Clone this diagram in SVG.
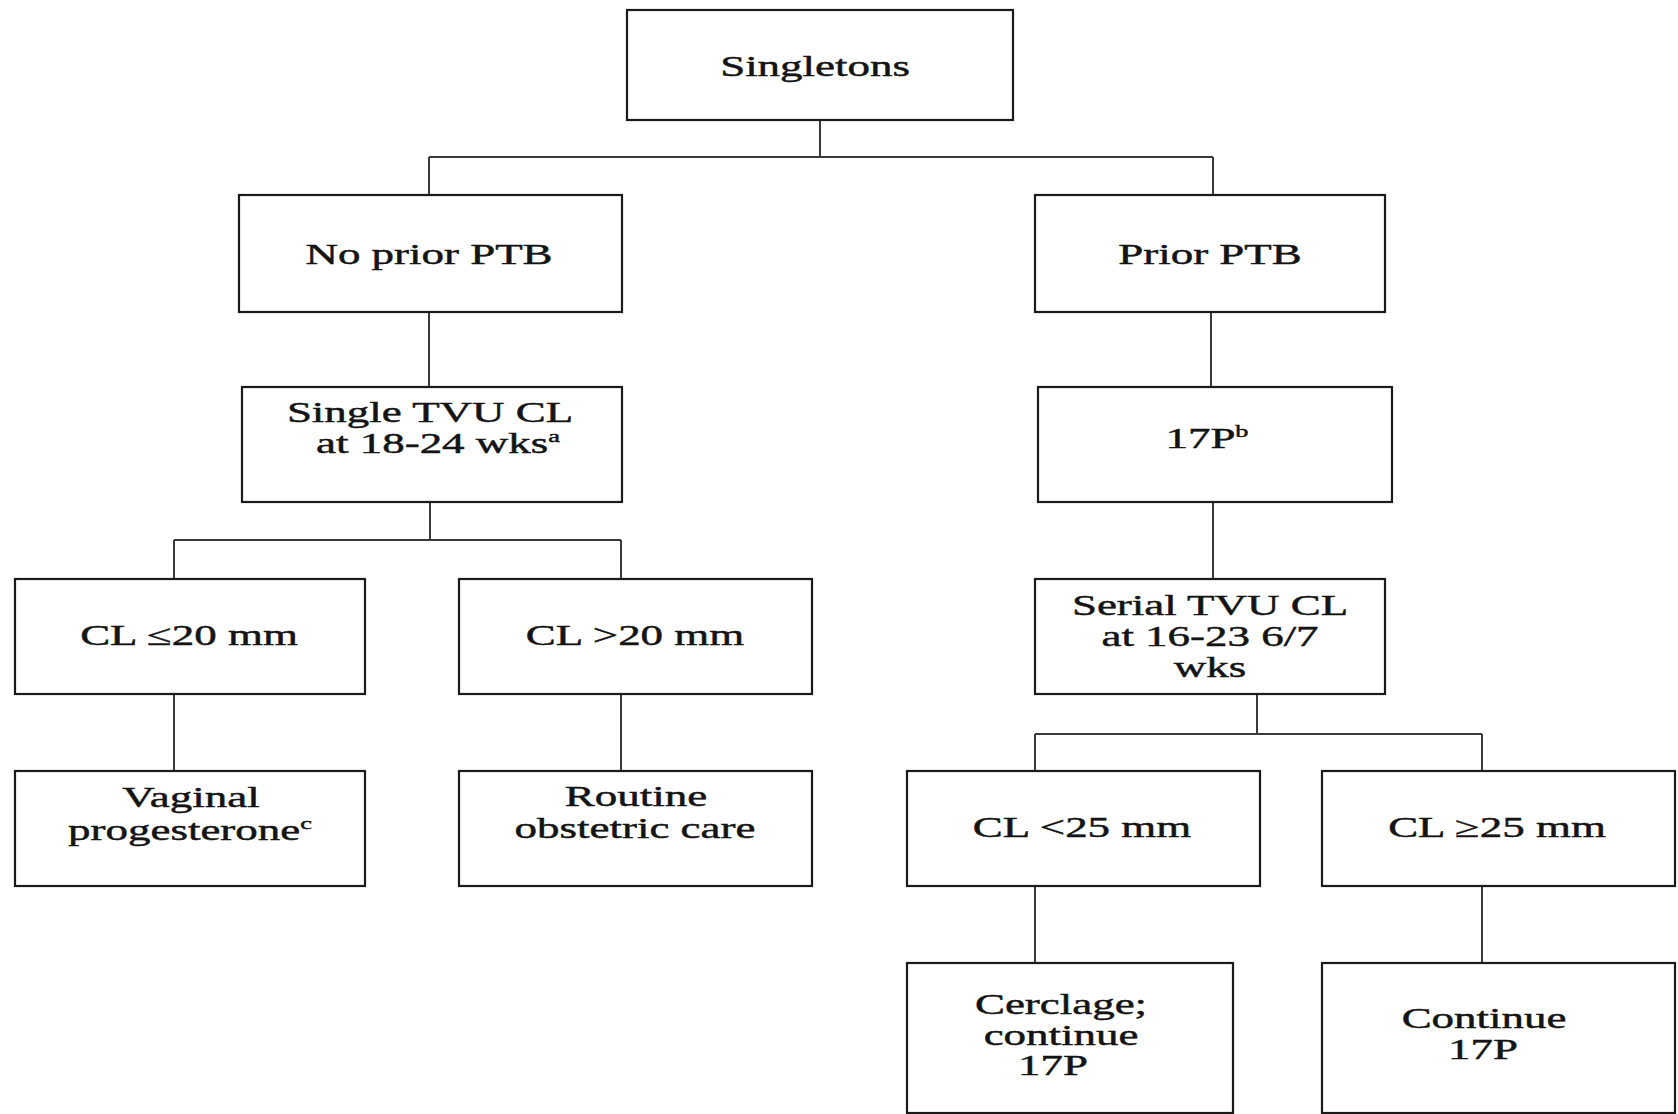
<svg xmlns="http://www.w3.org/2000/svg" width="1678" height="1114" viewBox="0 0 1678 1114">
<style>
.box{fill:#fff;stroke:#1a1a1a;stroke-width:2.2}
.c{fill:none;stroke:#3a3a3a;stroke-width:2}
.t{font-family:"Liberation Serif","Times New Roman",serif;font-size:29px;fill:#141414;stroke:#141414;stroke-width:0.45;text-anchor:middle}
.sup{font-size:17px}
</style>
<rect width="1678" height="1114" fill="#fff"/>
<g id="connectors">
<path class="c" d="M820 120V157M429 157H1213M429 157V195M1213 157V195"/>
<path class="c" d="M429 312V387M1211 312V387"/>
<path class="c" d="M430 502V540M174 540H621M174 540V579M621 540V579"/>
<path class="c" d="M174 694V771M621 694V771"/>
<path class="c" d="M1213 502V579"/>
<path class="c" d="M1257 694V734M1035 734H1482M1035 734V771M1482 734V771"/>
<path class="c" d="M1035 886V963M1482 886V963"/>
</g>
<g id="singletons"><rect class="box" x="627" y="10" width="386" height="110"/>
<text class="t" transform="translate(815,76) scale(1.55,1)">Singletons</text></g>
<g id="no-prior-ptb"><rect class="box" x="239" y="195" width="383" height="117"/>
<text class="t" transform="translate(429,264) scale(1.55,1)">No prior PTB</text></g>
<g id="prior-ptb"><rect class="box" x="1035" y="195" width="350" height="117"/>
<text class="t" transform="translate(1210,264) scale(1.55,1)">Prior PTB</text></g>
<g id="single-tvu"><rect class="box" x="242" y="387" width="380" height="115"/>
<text class="t" transform="translate(430,422) scale(1.55,1)">Single TVU CL</text>
<text class="t" transform="translate(438,453) scale(1.55,1)">at 18-24 wks<tspan class="sup" dy="-11">a</tspan></text></g>
<g id="p17"><rect class="box" x="1038" y="387" width="354" height="115"/>
<text class="t" transform="translate(1207,448) scale(1.55,1)">17P<tspan class="sup" dy="-11">b</tspan></text></g>
<g id="cl-le20"><rect class="box" x="15" y="579" width="350" height="115"/>
<text class="t" transform="translate(189,645) scale(1.55,1)">CL ≤20 mm</text></g>
<g id="cl-gt20"><rect class="box" x="459" y="579" width="353" height="115"/>
<text class="t" transform="translate(635,645) scale(1.55,1)">CL &gt;20 mm</text></g>
<g id="serial-tvu"><rect class="box" x="1035" y="579" width="350" height="115"/>
<text class="t" transform="translate(1210,615) scale(1.55,1)">Serial TVU CL</text>
<text class="t" transform="translate(1210,646) scale(1.55,1)">at 16-23 6/7</text>
<text class="t" transform="translate(1210,677) scale(1.55,1)">wks</text></g>
<g id="vaginal"><rect class="box" x="15" y="771" width="350" height="115"/>
<text class="t" transform="translate(191,807) scale(1.55,1)">Vaginal</text>
<text class="t" transform="translate(190,840) scale(1.55,1)">progesterone<tspan class="sup" dy="-11">c</tspan></text></g>
<g id="routine"><rect class="box" x="459" y="771" width="353" height="115"/>
<text class="t" transform="translate(636,806) scale(1.55,1)">Routine</text>
<text class="t" transform="translate(635,838) scale(1.55,1)">obstetric care</text></g>
<g id="cl-lt25"><rect class="box" x="907" y="771" width="353" height="115"/>
<text class="t" transform="translate(1082,837) scale(1.55,1)">CL &lt;25 mm</text></g>
<g id="cl-ge25"><rect class="box" x="1322" y="771" width="353" height="115"/>
<text class="t" transform="translate(1497,837) scale(1.55,1)">CL ≥25 mm</text></g>
<g id="cerclage"><rect class="box" x="907" y="963" width="326" height="150"/>
<text class="t" transform="translate(1061,1014) scale(1.55,1)">Cerclage;</text>
<text class="t" transform="translate(1061,1045) scale(1.55,1)">continue</text>
<text class="t" transform="translate(1053,1075) scale(1.55,1)">17P</text></g>
<g id="continue"><rect class="box" x="1322" y="963" width="353" height="150"/>
<text class="t" transform="translate(1484,1028) scale(1.55,1)">Continue</text>
<text class="t" transform="translate(1483,1059) scale(1.55,1)">17P</text></g>
</svg>
